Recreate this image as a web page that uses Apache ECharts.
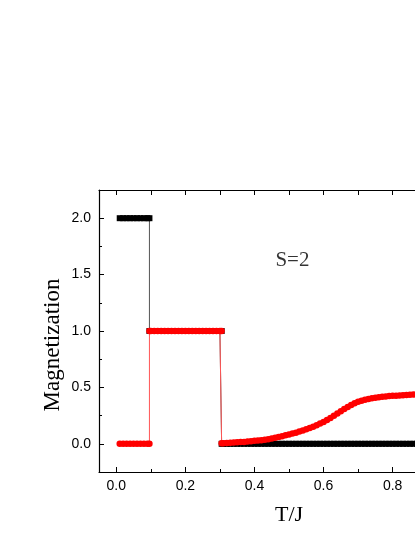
<!DOCTYPE html>
<html>
<head>
<meta charset="utf-8">
<script src="https://cdn.jsdelivr.net/npm/echarts@6/dist/echarts.min.js"></script>
<style>html,body{margin:0;padding:0;background:#fff;}#c{width:415px;height:537px;}</style>
</head>
<body>
<div id="c"></div>
<script>
const T = [0.01,0.02,0.03,0.04,0.05,0.06,0.07,0.08,0.09,0.096,0.096,0.10,
0.11,0.12,0.13,0.14,0.15,0.16,0.17,0.18,0.19,0.20,
0.21,0.22,0.23,0.24,0.25,0.26,0.27,0.28,0.29,0.30,0.305,0.305,
0.31,0.32,0.33,0.34,0.35,0.36,0.37,0.38,0.39,0.40,
0.41,0.42,0.43,0.44,0.45,0.46,0.47,0.48,0.49,0.50,
0.51,0.52,0.53,0.54,0.55,0.56,0.57,0.58,0.59,0.60,
0.61,0.62,0.63,0.64,0.65,0.66,0.67,0.68,0.69,0.70,
0.71,0.72,0.73,0.74,0.75,0.76,0.77,0.78,0.79,0.80,
0.81,0.82,0.83,0.84,0.85,0.86,0.87,0.88,0.89,0.90,
0.91,0.92,0.93,0.94,0.95,0.96,0.97,0.98,0.99,1.00];
const magBlack = [2,2,2,2,2,2,2,2,2,2,1,1,
1,1,1,1,1,1,1,1,1,1,
1,1,1,1,1,1,1,1,1,1,1,0,
0,0,0,0,0,0,0,0,0,0,
0,0,0,0,0,0,0,0,0,0,
0,0,0,0,0,0,0,0,0,0,
0,0,0,0,0,0,0,0,0,0,
0,0,0,0,0,0,0,0,0,0,
0,0,0,0,0,0,0,0,0,0,
0,0,0,0,0,0,0,0,0,0];
const magRed = [0,0,0,0,0,0,0,0,0,0,1,1,
1,1,1,1,1,1,1,1,1,1,
1,1,1,1,1,1,1,1,1,1,1,0.004,
0.005,0.007,0.009,0.011,0.013,0.015,0.017,0.020,0.023,0.026,
0.029,0.032,0.036,0.041,0.047,0.053,0.060,0.067,0.075,0.083,
0.091,0.099,0.108,0.118,0.129,0.140,0.152,0.165,0.179,0.194,
0.211,0.229,0.249,0.269,0.289,0.309,0.327,0.344,0.359,0.372,
0.382,0.391,0.398,0.404,0.409,0.413,0.417,0.420,0.423,0.425,
0.427,0.429,0.431,0.433,0.435,0.437,0.438,0.439,0.440,0.441,
0.442,0.443,0.444,0.445,0.446,0.446,0.447,0.447,0.448,0.448];
const xMajorTicks = [0,0.2,0.4,0.6,0.8,1.0];
const xMinorTicks = [0.1,0.3,0.5,0.7,0.9];
const xTopTicks = [0,0.1,0.2,0.3,0.4,0.5,0.6,0.7,0.8,0.9,1.0];
const yMajorTicks = [0,0.5,1.0,1.5,2.0];
const yMinorTicks = [0.25,0.75,1.25,1.75];
const annotation = [[0.51, 1.625, 'S=2']];

const chart = echarts.init(document.getElementById('c'), null, {renderer:'canvas'});
const lblFont = {fontFamily:'Liberation Sans', fontSize:14, color:'#000'};
const axLine = {show:true, onZero:false, lineStyle:{color:'#000', width:1.2}};
const noLine = {show:false, onZero:false};
const option = {
  animation:false,
  backgroundColor:'#fff',
  grid:{left:99, top:190, bottom:65, width:380, containLabel:false, outerBoundsMode:'none'},
  xAxis:[
    {type:'value', position:'bottom', min:-0.05, max:1.05, splitLine:{show:false},
     axisLine:axLine,
     axisTick:{show:true, inside:true, length:5, customValues:xMajorTicks, lineStyle:{color:'#000'}},
     axisLabel:Object.assign({show:true, margin:7, customValues:xMajorTicks, formatter:v=>v.toFixed(1)}, lblFont),
     name:'T/J', nameLocation:'middle', nameGap:32, nameMoveOverlap:false,
     nameTextStyle:{fontFamily:'Liberation Serif', fontSize:22, color:'#000'}},
    {type:'value', position:'bottom', min:-0.05, max:1.05, splitLine:{show:false},
     axisLine:noLine,
     axisTick:{show:true, inside:true, length:3, customValues:xMinorTicks, lineStyle:{color:'#000'}},
     axisLabel:{show:false}},
    {type:'value', position:'top', min:-0.05, max:1.05, splitLine:{show:false},
     axisLine:axLine,
     axisTick:{show:true, inside:true, length:5, customValues:xTopTicks, lineStyle:{color:'#000'}},
     axisLabel:{show:false}}
  ],
  yAxis:[
    {type:'value', position:'left', min:-0.25, max:2.25, splitLine:{show:false},
     axisLine:axLine,
     axisTick:{show:true, inside:true, length:5, customValues:yMajorTicks, lineStyle:{color:'#000'}},
     axisLabel:Object.assign({show:true, margin:8, customValues:yMajorTicks, formatter:v=>v.toFixed(1)}, lblFont),
     name:'Magnetization', nameLocation:'middle', nameGap:35, nameMoveOverlap:false,
     nameTextStyle:{fontFamily:'Liberation Serif', fontSize:23, color:'#000', padding:[0,28,0,0]}},
    {type:'value', position:'left', min:-0.25, max:2.25, splitLine:{show:false},
     axisLine:noLine,
     axisTick:{show:true, inside:true, length:3, customValues:yMinorTicks, lineStyle:{color:'#000'}},
     axisLabel:{show:false}}
  ],
  series:[
    {type:'line', xAxisIndex:0, yAxisIndex:0, data:T.map((t,i)=>[t, magBlack[i]]),
     symbol:'rect', symbolSize:6, showSymbol:true, showAllSymbol:true,
     itemStyle:{color:'#000'}, lineStyle:{color:'#555', width:1}, z:2},
    {type:'line', xAxisIndex:0, yAxisIndex:0, data:T.map((t,i)=>[t, magRed[i]]),
     symbol:'circle', symbolSize:6.5, showSymbol:true, showAllSymbol:true,
     itemStyle:{color:'#ff0000'}, lineStyle:{color:'#ff5555', width:1}, z:3},
    {type:'scatter', xAxisIndex:0, yAxisIndex:0, data:annotation.map(a=>[a[0], a[1]]),
     symbolSize:0, silent:true,
     label:{show:true, position:'inside', formatter:p=>annotation[p.dataIndex][2],
       fontFamily:'Liberation Serif', fontSize:21, color:'#000'}}
  ]
};
chart.setOption(option);
</script>
</body>
</html>
